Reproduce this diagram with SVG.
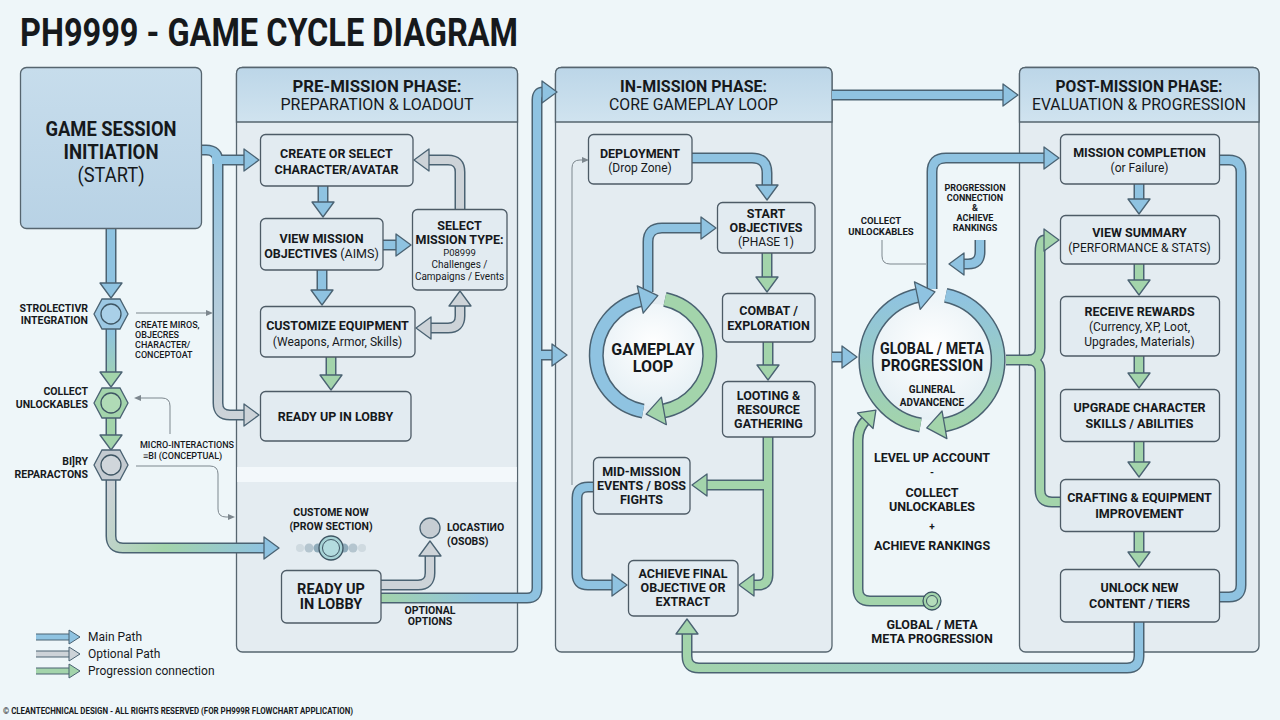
<svg xmlns="http://www.w3.org/2000/svg" width="1280" height="720" viewBox="0 0 1280 720">
<defs>
<style>
text{font-family:Roboto,"Liberation Sans","DejaVu Sans",sans-serif;fill:#16191c}
.c{text-anchor:middle}
.r{text-anchor:end}
.n{font-size:12.5px;font-weight:700}
.sub{font-size:12px;font-weight:400}
.h1{font-size:17px;font-weight:700}
.h2{font-size:17px;font-weight:400}
.lab{font-size:10.5px;font-weight:700}
.tiny{font-size:9px;font-weight:500}
.panel{fill:#e4ecf1;stroke:#56656f;stroke-width:1.3}
.hdr{fill:url(#gHdr);stroke:#56656f;stroke-width:1.3}
.box{fill:#e2ebf1;stroke:#4d5b66;stroke-width:1.3}
.ol{fill:none;stroke:#4a6272;stroke-width:11}
.olr{fill:none;stroke:#4a6272;stroke-width:15}
.fB{fill:none;stroke:#8fc3e1;stroke-width:8}
.fG{fill:none;stroke:#a3d4ab;stroke-width:8}
.fGr{fill:none;stroke:#cdd3d8;stroke-width:8}
.thin{fill:none;stroke:#7d878e;stroke-width:1}
</style>
<linearGradient id="gHdr" x1="0" y1="0" x2="0" y2="1"><stop offset="0" stop-color="#bcd6e8"/><stop offset="1" stop-color="#d0e3ef"/></linearGradient>
<linearGradient id="gStart" x1="0" y1="0" x2="0" y2="1"><stop offset="0" stop-color="#c7ddec"/><stop offset="1" stop-color="#b8d2e5"/></linearGradient>
<linearGradient id="gL1" gradientUnits="userSpaceOnUse" x1="0" y1="150" x2="0" y2="415"><stop offset="0" stop-color="#8fc3e1"/><stop offset="1" stop-color="#cdd3d8"/></linearGradient>
<linearGradient id="gL4" gradientUnits="userSpaceOnUse" x1="0" y1="329" x2="0" y2="388"><stop offset="0" stop-color="#8fc3e1"/><stop offset="1" stop-color="#a3d4ab"/></linearGradient>
<linearGradient id="gL6" gradientUnits="userSpaceOnUse" x1="111" y1="480" x2="265" y2="548"><stop offset="0" stop-color="#cdd3d8"/><stop offset="0.45" stop-color="#a3d4ab"/><stop offset="1" stop-color="#8fc3e1"/></linearGradient>
<linearGradient id="gP8" gradientUnits="userSpaceOnUse" x1="381" y1="0" x2="480" y2="0"><stop offset="0" stop-color="#a3d4ab"/><stop offset="1" stop-color="#8fc3e1"/></linearGradient>
<linearGradient id="gBot" gradientUnits="userSpaceOnUse" x1="687" y1="0" x2="1139" y2="0"><stop offset="0" stop-color="#a3d4ab"/><stop offset="1" stop-color="#8fc3e1"/></linearGradient>
<linearGradient id="gRing" gradientUnits="userSpaceOnUse" x1="0" y1="294" x2="0" y2="426"><stop offset="0" stop-color="#8fc3e1"/><stop offset="1" stop-color="#a3d4ab"/></linearGradient>
<radialGradient id="gIn" cx="0.5" cy="0.4" r="0.6"><stop offset="0" stop-color="#ffffff"/><stop offset="1" stop-color="#e6f0f5"/></radialGradient>
<marker id="hB" markerUnits="userSpaceOnUse" markerWidth="30" markerHeight="30" refX="1" refY="12" orient="auto" overflow="visible"><path d="M0,1 L15,12 L0,23 Z" fill="#8fc3e1" stroke="#4a6272" stroke-width="1.3" stroke-linejoin="round"/></marker>
<marker id="hG" markerUnits="userSpaceOnUse" markerWidth="30" markerHeight="30" refX="1" refY="12" orient="auto" overflow="visible"><path d="M0,1 L15,12 L0,23 Z" fill="#a3d4ab" stroke="#4a6272" stroke-width="1.3" stroke-linejoin="round"/></marker>
<marker id="hGr" markerUnits="userSpaceOnUse" markerWidth="30" markerHeight="30" refX="1" refY="12" orient="auto" overflow="visible"><path d="M0,1 L15,12 L0,23 Z" fill="#cdd3d8" stroke="#4a6272" stroke-width="1.3" stroke-linejoin="round"/></marker>
<marker id="hGrS" markerUnits="userSpaceOnUse" markerWidth="30" markerHeight="30" refX="1" refY="12" orient="auto-start-reverse" overflow="visible"><path d="M0,1 L15,12 L0,23 Z" fill="#cdd3d8" stroke="#4a6272" stroke-width="1.3" stroke-linejoin="round"/></marker>
<marker id="hBL" markerUnits="userSpaceOnUse" markerWidth="30" markerHeight="30" refX="1" refY="14" orient="auto" overflow="visible"><path d="M0,0 L18,14 L0,28 Z" fill="#8fc3e1" stroke="#4a6272" stroke-width="1.3" stroke-linejoin="round"/></marker>
<marker id="hGL" markerUnits="userSpaceOnUse" markerWidth="30" markerHeight="30" refX="1" refY="14" orient="auto" overflow="visible"><path d="M0,0 L18,14 L0,28 Z" fill="#a3d4ab" stroke="#4a6272" stroke-width="1.3" stroke-linejoin="round"/></marker>
<marker id="hBs" markerUnits="userSpaceOnUse" markerWidth="20" markerHeight="20" refX="1" refY="7" orient="auto" overflow="visible"><path d="M0,0 L11,7 L0,14 Z" fill="#8fc3e1" stroke="#4a6272" stroke-width="1" stroke-linejoin="round"/></marker>
<marker id="hGs" markerUnits="userSpaceOnUse" markerWidth="20" markerHeight="20" refX="1" refY="7" orient="auto" overflow="visible"><path d="M0,0 L11,7 L0,14 Z" fill="#a3d4ab" stroke="#4a6272" stroke-width="1" stroke-linejoin="round"/></marker>
<marker id="hGrs" markerUnits="userSpaceOnUse" markerWidth="20" markerHeight="20" refX="1" refY="7" orient="auto" overflow="visible"><path d="M0,0 L11,7 L0,14 Z" fill="#cdd3d8" stroke="#4a6272" stroke-width="1" stroke-linejoin="round"/></marker>
<marker id="hT" markerUnits="userSpaceOnUse" markerWidth="10" markerHeight="10" refX="0" refY="3" orient="auto" overflow="visible"><path d="M0,0 L7,3 L0,6 Z" fill="#7d878e"/></marker>
</defs>

<rect width="1280" height="720" fill="#eef6f9"/>
<text x="20" y="46" font-size="38" font-weight="700" textLength="498" lengthAdjust="spacingAndGlyphs">PH9999 - GAME CYCLE DIAGRAM</text>

<!-- Panels -->
<g id="panel-pre">
<rect class="panel" x="236.5" y="67.5" width="281" height="584.5" rx="6"/>
<path class="hdr" d="M236.5,122 V73.5 Q236.5,67.5 242.5,67.5 H511.5 Q517.5,67.5 517.5,73.5 V122 Z"/>
<rect x="237.2" y="467" width="279.6" height="15" fill="#f3f8fb"/>
<text class="c h1" x="377" y="92" textLength="169" lengthAdjust="spacingAndGlyphs">PRE-MISSION PHASE:</text>
<text class="c h2" x="377" y="110" textLength="193" lengthAdjust="spacingAndGlyphs">PREPARATION &amp; LOADOUT</text>
</g>
<g id="panel-in">
<rect class="panel" x="555.5" y="67.5" width="276.5" height="584.5" rx="6"/>
<path class="hdr" d="M555.5,122 V73.5 Q555.5,67.5 561.5,67.5 H826 Q832,67.5 832,73.5 V122 Z"/>
<text class="c h1" x="693.5" y="92" textLength="147" lengthAdjust="spacingAndGlyphs">IN-MISSION PHASE:</text>
<text class="c h2" x="693.5" y="110" textLength="169" lengthAdjust="spacingAndGlyphs">CORE GAMEPLAY LOOP</text>
</g>
<g id="panel-post">
<rect class="panel" x="1019.5" y="67.5" width="239.5" height="584.5" rx="6"/>
<path class="hdr" d="M1019.5,122 V73.5 Q1019.5,67.5 1025.5,67.5 H1253 Q1259,67.5 1259,73.5 V122 Z"/>
<text class="c h1" x="1139" y="92" textLength="167" lengthAdjust="spacingAndGlyphs">POST-MISSION PHASE:</text>
<text class="c h2" x="1139" y="110" textLength="214" lengthAdjust="spacingAndGlyphs">EVALUATION &amp; PROGRESSION</text>
</g>

<!-- Connectors -->
<g id="connectors" stroke-linejoin="round">
<path class="ol" d="M201,150 H206 Q218,150 218,162 V403 Q218,415 230,415 H245"/>
<path class="ol" d="M218,160 H245"/>
<path class="fB" style="stroke:url(#gL1)" d="M201,150 H206 Q218,150 218,162 V403 Q218,415 230,415 H245" marker-end="url(#hGr)"/>
<path class="fB" d="M212,160 H245" marker-end="url(#hB)"/>
<path class="ol" d="M111,228 V284"/><path class="fB" d="M111,228 V284" marker-end="url(#hB)"/>
<path class="ol" d="M111,329 V373"/><path class="fB" style="stroke:url(#gL4)" d="M111,329 V373" marker-end="url(#hG)"/>
<path class="ol" d="M111,418 V436"/><path class="fG" d="M111,418 V436" marker-end="url(#hG)"/>
<path class="ol" d="M111,480 V536 Q111,548 123,548 H265"/><path class="fB" style="stroke:url(#gL6)" d="M111,480 V536 Q111,548 123,548 H265" marker-end="url(#hB)"/>
<path class="thin" d="M136,313 H206" marker-end="url(#hT)"/>
<path class="thin" d="M170,434 V406 Q170,398 162,398 H141" marker-end="url(#hT)"/>
<path class="thin" d="M136,466 H210 Q218,466 218,474 V509 Q218,517 226,517 H228" marker-end="url(#hT)"/>
<path class="ol" d="M323,186 V203"/><path class="fB" d="M323,186 V203" marker-end="url(#hB)"/>
<path class="ol" d="M383,245 H397"/><path class="fB" d="M383,245 H397" marker-end="url(#hB)"/>
<path class="ol" d="M322,270 V291"/><path class="fB" d="M322,270 V291" marker-end="url(#hB)"/>
<path class="ol" d="M331,357 V376"/><path class="fG" d="M331,357 V376" marker-end="url(#hG)"/>
<path class="ol" d="M460,209 V172 Q460,160 448,160 H428"/><path class="fGr" d="M460,209 V172 Q460,160 448,160 H428" marker-end="url(#hGr)"/>
<path class="ol" d="M430,328 H448 Q460,328 460,316 V305"/><path class="fGr" d="M430,328 H448 Q460,328 460,316 V305" marker-start="url(#hGrS)" marker-end="url(#hGr)"/>
<path class="ol" d="M381,585 H418 Q430,585 430,573 V555"/><path class="fGr" d="M381,585 H418 Q430,585 430,573 V555" marker-end="url(#hGr)"/>
<path class="ol" d="M381,598 H527 Q537,598 537,588 V100 Q537,92 543,92"/>
<path class="ol" d="M537,355 H553"/>
<path class="fB" style="stroke:url(#gP8)" d="M381,598 H527 Q537,598 537,588 V100 Q537,92 543,92" marker-end="url(#hB)"/>
<path class="fB" d="M533,355 H553" marker-end="url(#hB)"/>
<path class="thin" d="M572,485 V168 Q572,160 580,160 H582" marker-end="url(#hT)"/>
<path class="ol" d="M692,158 H752 Q767,158 767,173 V186"/><path class="fB" d="M692,158 H752 Q767,158 767,173 V186" marker-end="url(#hB)"/>
<path class="ol" d="M767,253 V278"/><path class="fG" d="M767,253 V278" marker-end="url(#hG)"/>
<path class="ol" d="M768,342 V366"/><path class="fG" d="M768,342 V366" marker-end="url(#hG)"/>
<path class="ol" d="M768,437 V575 Q768,585 758,585 H753"/>
<path class="ol" d="M763.5,485 H706"/>
<path class="fG" d="M768,437 V575 Q768,585 758,585 H753" marker-end="url(#hG)"/>
<path class="fG" d="M766,485 H706" marker-end="url(#hG)"/>
<path class="ol" d="M593,487 H588 Q577,487 577,498 V574 Q577,585 588,585 H613"/><path class="fB" d="M593,487 H588 Q577,487 577,498 V574 Q577,585 588,585 H613" marker-end="url(#hB)"/>
<path class="ol" d="M648,292 V242 Q648,228 662,228 H702"/><path class="fB" d="M648,292 V242 Q648,228 662,228 H702" marker-end="url(#hB)"/>
<path class="ol" d="M1139,622 V656 Q1139,668 1127,668 H699 Q687,668 687,656 V633"/><path class="fB" style="stroke:url(#gBot)" d="M1139,622 V656 Q1139,668 1127,668 H699 Q687,668 687,656 V633" marker-end="url(#hG)"/>
<path class="ol" d="M832,95 H1004"/><path class="fB" d="M832,95 H1004" marker-end="url(#hB)"/>
<path class="ol" d="M832,357 H843"/><path class="fB" d="M832,357 H843" marker-end="url(#hB)"/>
<path class="ol" d="M932,289 V172 Q932,158 946,158 H1045"/><path class="fB" d="M932,289 V172 Q932,158 946,158 H1045" marker-end="url(#hB)"/>
<path class="ol" d="M980,240 V252 Q980,264 968,264 H963"/><path class="fB" d="M980,240 V252 Q980,264 968,264 H963" marker-end="url(#hB)"/>
<path class="thin" d="M882,240 V256 Q882,264 890,264 H926"/>
<path class="ol" d="M1028,360 Q1040,360 1040,372 V490 Q1040,502 1052,502 H1060"/>
<path class="ol" d="M1006,360 H1028 Q1040,360 1040,348 V252 Q1040,240 1045,240"/>
<path class="fG" d="M1028,360 Q1040,360 1040,372 V490 Q1040,502 1052,502 H1060"/>
<path class="fG" d="M1006,360 H1028 Q1040,360 1040,348 V252 Q1040,240 1045,240" marker-end="url(#hG)"/>
<path class="ol" d="M932,601 H870 Q858,601 858,589 V440 Q858,428 866,420"/><path class="fG" d="M932,601 H870 Q858,601 858,589 V440 Q858,428 866,420" marker-end="url(#hG)"/>
<path class="ol" d="M1139,184 V200"/><path class="fB" d="M1139,184 V200" marker-end="url(#hB)"/>
<path class="ol" d="M1139,264 V281"/><path class="fG" d="M1139,264 V281" marker-end="url(#hG)"/>
<path class="ol" d="M1139,356 V374"/><path class="fG" d="M1139,356 V374" marker-end="url(#hG)"/>
<path class="ol" d="M1139,442 V463"/><path class="fG" d="M1139,442 V463" marker-end="url(#hG)"/>
<path class="ol" d="M1139,532 V553"/><path class="fG" d="M1139,532 V553" marker-end="url(#hG)"/>
<path class="ol" d="M1220,160 H1229 Q1241,160 1241,172 V585 Q1241,597 1229,597 H1220"/><path class="fB" d="M1220,160 H1229 Q1241,160 1241,172 V585 Q1241,597 1229,597 H1220"/>
<path d="M36,637 H70" fill="none" stroke="#4a6272" stroke-width="7"/><path d="M36,637 H70" fill="none" stroke="#8fc3e1" stroke-width="5" marker-end="url(#hBs)"/>
<path d="M36,654 H70" fill="none" stroke="#4a6272" stroke-width="7"/><path d="M36,654 H70" fill="none" stroke="#cdd3d8" stroke-width="5" marker-end="url(#hGrs)"/>
<path d="M36,671 H70" fill="none" stroke="#4a6272" stroke-width="7"/><path d="M36,671 H70" fill="none" stroke="#a3d4ab" stroke-width="5" marker-end="url(#hGs)"/>
</g>

<!-- Nodes -->
<g id="start">
<rect x="20.5" y="67.5" width="181" height="161" rx="6" fill="url(#gStart)" stroke="#56656f" stroke-width="1.3"/>
<text class="c" x="111" y="136" font-size="20" font-weight="700" textLength="131" lengthAdjust="spacingAndGlyphs">GAME SESSION</text>
<text class="c" x="111" y="159" font-size="20" font-weight="700" textLength="95" lengthAdjust="spacingAndGlyphs">INITIATION</text>
<text class="c" x="111" y="182" font-size="20" textLength="67" lengthAdjust="spacingAndGlyphs">(START)</text>
</g>
<g id="hex1">
<polygon points="94,314 102,299 120,299 128,314 120,329 102,329" fill="#9cc8e3" stroke="#4a6272" stroke-width="1.3"/>
<circle cx="111" cy="314" r="10" fill="#a9d0e8" stroke="#3e5563" stroke-width="1.3"/>
<text class="r lab" x="88" y="312">STROLECTIVR</text>
<text class="r lab" x="88" y="324">INTEGRATION</text>
<text class="tiny" x="135" y="328">CREATE MIROS,</text>
<text class="tiny" x="135" y="338" font-weight="700">OBJECRES</text>
<text class="tiny" x="135" y="348" font-weight="700">CHARACTER/</text>
<text class="tiny" x="135" y="358">CONCEPTOAT</text>
</g>
<g id="hex2">
<polygon points="94,403 102,388 120,388 128,403 120,418 102,418" fill="#a3d4ab" stroke="#4a6272" stroke-width="1.3"/>
<circle cx="111" cy="403" r="10" fill="#b0dbb6" stroke="#3e5563" stroke-width="1.3"/>
<text class="r lab" x="88" y="395">COLLECT</text>
<text class="r lab" x="88" y="408">UNLOCKABLES</text>
</g>
<g id="hex3">
<polygon points="94,465 102,450 120,450 128,465 120,480 102,480" fill="#c4cbd1" stroke="#4a6272" stroke-width="1.3"/>
<circle cx="111" cy="465" r="10" fill="#d0d6db" stroke="#3e5563" stroke-width="1.3"/>
<text class="r lab" x="88" y="465">BI]RY</text>
<text class="r lab" x="88" y="478">REPARACTONS</text>
<text class="tiny" x="140" y="448">MICRO-INTERACTIONS</text>
<text class="tiny" x="143" y="459" font-weight="700">≡BI (CONCEPTUAL)</text>
</g>

<g id="create">
<rect class="box" x="260.5" y="134.5" width="152.5" height="51.5" rx="5"/>
<text class="c n" x="336.5" y="158">CREATE OR SELECT</text>
<text class="c n" x="336.5" y="174">CHARACTER/AVATAR</text>
</g>
<g id="view-objectives">
<rect class="box" x="260.5" y="218.5" width="122.5" height="51.5" rx="5"/>
<text class="c n" x="321.5" y="243">VIEW MISSION</text>
<text class="c n" x="321.5" y="258">OBJECTIVES <tspan font-weight="400">(AIMS)</tspan></text>
</g>
<g id="select-type">
<rect class="box" x="412.5" y="209.5" width="94.5" height="80.5" rx="5"/>
<text class="c n" x="459.5" y="230">SELECT</text>
<text class="c n" x="459.5" y="244">MISSION TYPE:</text>
<text class="c" x="459.5" y="256" font-size="9.5">P08999</text>
<text class="c" x="459.5" y="268" font-size="10">Challenges /</text>
<text class="c" x="459.5" y="280" font-size="10">Campaigns / Events</text>
</g>
<g id="customize">
<rect class="box" x="260.5" y="306.5" width="154.5" height="50.5" rx="5"/>
<text class="c n" x="337.5" y="330">CUSTOMIZE EQUIPMENT</text>
<text class="c sub" x="337.5" y="346">(Weapons, Armor, Skills)</text>
</g>
<g id="ready-lobby">
<rect class="box" x="260.5" y="391.5" width="150.5" height="49.5" rx="5"/>
<text class="c n" x="335.5" y="421">READY UP IN LOBBY</text>
</g>
<g id="custom-now">
<text class="c lab" x="331" y="516">CUSTOME NOW</text>
<text class="c lab" x="331" y="530">(PROW SECTION)</text>
<circle cx="300" cy="548" r="4" fill="#b9c7cf" opacity="0.5"/>
<circle cx="309" cy="548" r="4.5" fill="#9fb5c1" opacity="0.7"/>
<circle cx="318" cy="548" r="4.5" fill="#85a4b4" opacity="0.9"/>
<circle cx="344" cy="548" r="4.5" fill="#85a4b4" opacity="0.9"/>
<circle cx="353" cy="548" r="4.5" fill="#9fb5c1" opacity="0.7"/>
<circle cx="362" cy="548" r="4" fill="#b9c7cf" opacity="0.5"/>
<circle cx="331" cy="548" r="12" fill="#a7d3d6" stroke="#3e5563" stroke-width="1.3"/>
<circle cx="331" cy="548" r="8.5" fill="#b3dcdf" stroke="#3e5563" stroke-width="1"/>
</g>
<g id="locasting">
<circle cx="430" cy="528" r="10" fill="#c6cdd3" stroke="#4a6272" stroke-width="1.3"/>
<text class="lab" x="447" y="531">LOCASTIИO</text>
<text class="lab" x="447" y="545">(OSOBS)</text>
</g>
<g id="ready-lobby-2">
<rect class="box" x="281.5" y="570.5" width="99.5" height="52.5" rx="5"/>
<text class="c" x="331" y="594" font-size="14.5" font-weight="700">READY UP</text>
<text class="c" x="331" y="609" font-size="14.5" font-weight="700">IN LOBBY</text>
<text class="c lab" x="430" y="614">OPTIONAL</text>
<text class="c lab" x="430" y="625">OPTIONS</text>
</g>

<g id="deployment">
<rect class="box" x="588.5" y="134.5" width="103.5" height="49.5" rx="5"/>
<text class="c n" x="640" y="158">DEPLOYMENT</text>
<text class="c sub" x="640" y="172">(Drop Zone)</text>
</g>
<g id="start-objectives">
<rect class="box" x="717.5" y="202.5" width="97.5" height="50.5" rx="5"/>
<text class="c n" x="766" y="218">START</text>
<text class="c n" x="766" y="232">OBJECTIVES</text>
<text class="c sub" x="766" y="246">(PHASE 1)</text>
</g>
<g id="combat">
<rect class="box" x="722.5" y="293.5" width="92.5" height="48.5" rx="5"/>
<text class="c n" x="768.5" y="315">COMBAT /</text>
<text class="c n" x="768.5" y="330">EXPLORATION</text>
</g>
<g id="looting">
<rect class="box" x="722.5" y="381.5" width="92.5" height="55.5" rx="5"/>
<text class="c n" x="768.5" y="400">LOOTING &amp;</text>
<text class="c n" x="768.5" y="414">RESOURCE</text>
<text class="c n" x="768.5" y="428">GATHERING</text>
</g>
<g id="mid-mission">
<rect class="box" x="593.5" y="457.5" width="96.5" height="56.5" rx="5"/>
<text class="c n" x="641.5" y="476">MID-MISSION</text>
<text class="c n" x="641.5" y="490">EVENTS / BOSS</text>
<text class="c n" x="641.5" y="504">FIGHTS</text>
</g>
<g id="achieve-final">
<rect class="box" x="628.5" y="560.5" width="109.5" height="55.5" rx="5"/>
<text class="c n" x="683" y="578">ACHIEVE FINAL</text>
<text class="c n" x="683" y="592">OBJECTIVE OR</text>
<text class="c n" x="683" y="606">EXTRACT</text>
</g>
<g id="gameplay-loop">
<circle cx="653" cy="355" r="51" fill="url(#gIn)"/>
<path class="olr" d="M643.1,411.1 A57,57 0 0 1 641.2,299.3"/>
<path class="olr" d="M664.9,299.3 A57,57 0 0 1 662.9,411.1"/>
<path d="M643.1,411.1 A57,57 0 0 1 641.2,299.3" fill="none" stroke="#8fc3e1" stroke-width="12" marker-end="url(#hBL)"/>
<path d="M664.9,299.3 A57,57 0 0 1 662.9,411.1" fill="none" stroke="#a3d4ab" stroke-width="12" marker-end="url(#hGL)"/>
<text class="c" x="653" y="355" font-size="16" font-weight="700">GAMEPLAY</text>
<text class="c" x="653" y="372" font-size="16" font-weight="700">LOOP</text>
</g>

<g id="global-progression">
<circle cx="932" cy="360" r="60" fill="url(#gIn)"/>
<path class="olr" d="M920.5,425 A66,66 0 0 1 918.3,295.4"/>
<path class="olr" d="M945.7,295.4 A66,66 0 0 1 943.5,425"/>
<path d="M920.5,425 A66,66 0 0 1 918.3,295.4" fill="none" stroke="url(#gRing)" stroke-width="12" marker-end="url(#hBL)"/>
<path d="M945.7,295.4 A66,66 0 0 1 943.5,425" fill="none" stroke="url(#gRing)" stroke-width="12" marker-end="url(#hGL)"/>
<text class="c" x="932" y="354" font-size="16" font-weight="700" textLength="104" lengthAdjust="spacingAndGlyphs">GLOBAL / META</text>
<text class="c" x="932" y="371" font-size="16" font-weight="700" textLength="102" lengthAdjust="spacingAndGlyphs">PROGRESSION</text>
<text class="c" x="932" y="393" font-size="10" font-weight="700">GLINERAL</text>
<text class="c" x="932" y="406" font-size="10" font-weight="700">ADVANCENCE</text>
<text class="c" x="975" y="191" font-size="9" font-weight="700">PROGRESSION</text>
<text class="c" x="975" y="201" font-size="9" font-weight="700">CONNECTION</text>
<text class="c" x="975" y="211" font-size="9" font-weight="700">&amp;</text>
<text class="c" x="975" y="221" font-size="9" font-weight="700">ACHIEVE</text>
<text class="c" x="975" y="231" font-size="9" font-weight="700">RANKINGS</text>
<text class="c" x="881" y="224" font-size="9.5" font-weight="700">COLLECT</text>
<text class="c" x="881" y="235" font-size="9.5" font-weight="700">UNLOCKABLES</text>
<text class="c" x="932" y="462" font-size="12.5" font-weight="700">LEVEL UP ACCOUNT</text>
<text class="c" x="932" y="476" font-size="10" font-weight="700">-</text>
<text class="c" x="932" y="497" font-size="12.5" font-weight="700">COLLECT</text>
<text class="c" x="932" y="511" font-size="12.5" font-weight="700">UNLOCKABLES</text>
<text class="c" x="932" y="530" font-size="10" font-weight="700">+</text>
<text class="c" x="932" y="550" font-size="12.5" font-weight="700">ACHIEVE RANKINGS</text>
</g>
<g id="global-meta">
<circle cx="932" cy="601" r="9" fill="#a3d4ab" stroke="#3e5563" stroke-width="1.3"/>
<circle cx="932" cy="601" r="5.5" fill="#b5ddbb" stroke="#3e5563" stroke-width="1"/>
<text class="c" x="932" y="629" font-size="12.5" font-weight="700">GLOBAL / META</text>
<text class="c" x="932" y="643" font-size="12.5" font-weight="700">META PROGRESSION</text>
</g>

<g id="mission-completion">
<rect class="box" x="1060.5" y="134.5" width="159" height="49.5" rx="5"/>
<text class="c n" x="1139.5" y="157">MISSION COMPLETION</text>
<text class="c sub" x="1139.5" y="172">(or Failure)</text>
</g>
<g id="view-summary">
<rect class="box" x="1060.5" y="215.5" width="159" height="48.5" rx="5"/>
<text class="c n" x="1139.5" y="237">VIEW SUMMARY</text>
<text class="c sub" x="1139.5" y="252">(PERFORMANCE &amp; STATS)</text>
</g>
<g id="receive-rewards">
<rect class="box" x="1060.5" y="296.5" width="159" height="59.5" rx="5"/>
<text class="c n" x="1139.5" y="316">RECEIVE REWARDS</text>
<text class="c sub" x="1139.5" y="331">(Currency, XP, Loot,</text>
<text class="c sub" x="1139.5" y="346">Upgrades, Materials)</text>
</g>
<g id="upgrade-character">
<rect class="box" x="1060.5" y="389.5" width="159" height="52" rx="5"/>
<text class="c n" x="1139.5" y="412">UPGRADE CHARACTER</text>
<text class="c n" x="1139.5" y="428">SKILLS / ABILITIES</text>
</g>
<g id="crafting">
<rect class="box" x="1060.5" y="479.5" width="159" height="52" rx="5"/>
<text class="c n" x="1139.5" y="502">CRAFTING &amp; EQUIPMENT</text>
<text class="c n" x="1139.5" y="518">IMPROVEMENT</text>
</g>
<g id="unlock-content">
<rect class="box" x="1060.5" y="569.5" width="159" height="52.5" rx="5"/>
<text class="c n" x="1139.5" y="592">UNLOCK NEW</text>
<text class="c n" x="1139.5" y="608">CONTENT / TIERS</text>
</g>

<g id="legend">
<text x="88" y="641" font-size="12">Main Path</text>
<text x="88" y="658" font-size="12">Optional Path</text>
<text x="88" y="675" font-size="12">Progression connection</text>
</g>
<text x="3" y="714" font-size="8.5" font-weight="700" textLength="350" lengthAdjust="spacingAndGlyphs">© CLEANTECHNICAL DESIGN - ALL RIGHTS RESERVED (FOR PH999R FLOWCHART APPLICATION)</text>
</svg>
